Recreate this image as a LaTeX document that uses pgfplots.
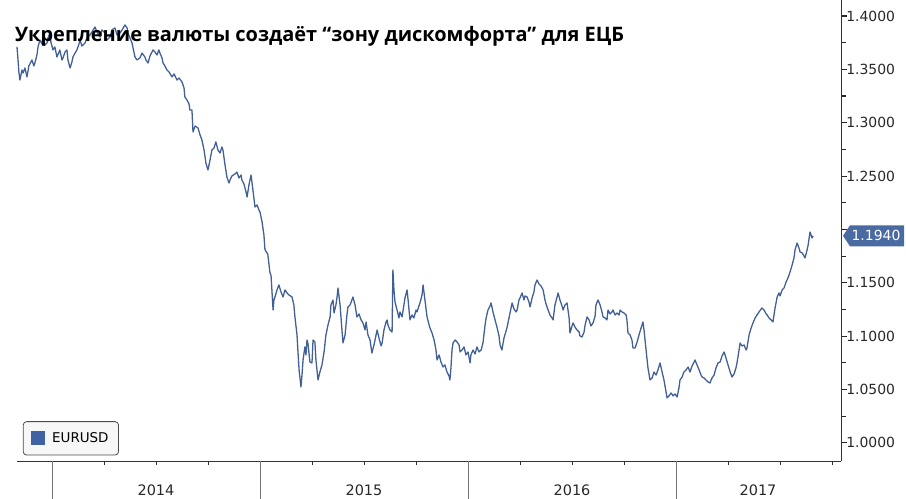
\documentclass[border=0pt]{standalone}
\usepackage{pgfplots}
\pgfplotsset{compat=1.18}
\usepackage{fontspec}
\setmainfont{DejaVu Sans}
\newfontfamily\titlefont{Open Sans}
\definecolor{eurline}{RGB}{66,96,150}
\definecolor{eurbox}{RGB}{74,106,162}
\definecolor{eurleg}{RGB}{64,98,164}
\definecolor{ticktext}{RGB}{40,40,40}
\begin{document}
\begin{tikzpicture}
\path[use as bounding box] (0,0) rectangle (906bp,499bp);
\begin{axis}[
  at={(17bp,38bp)}, anchor=south west,
  scale only axis, width=824bp, height=461bp,
  xmin=2013.832, xmax=2017.793, ymin=0.983, ymax=1.415,
  axis x line*=bottom, axis y line*=right,
  axis line style={black!80, line width=0.8bp},
  clip=false,
  tick align=outside,
  xtick={2014.25,2014.5,2014.75,2015.25,2015.5,2015.75,2016.25,2016.5,2016.75,2017.25,2017.5,2017.75},
  xticklabels={},
  xtick style={black!80, line width=0.8bp, /pgfplots/major tick length=4bp},
  ytick={1.00,1.05,1.10,1.15,1.20,1.25,1.30,1.35,1.40},
  yticklabels={1.0000,1.0500,1.1000,1.1500,,1.2500,1.3000,1.3500,1.4000},
  minor y tick num=1,
  ytick style={black!85, line width=1.1bp, /pgfplots/major tick length=6bp, /pgfplots/minor tick length=5bp},
  yticklabel style={font=\fontsize{14}{14}\selectfont, text=ticktext, anchor=west, xshift=-2.5bp},
  legend style={at={(0.007,0.012)}, anchor=south west, draw=black!70, fill=black!3,
     rounded corners=3.5bp, inner xsep=8bp, inner ysep=9bp, line width=0.8bp,
     font=\fontsize{13.5}{13.5}\selectfont},
  legend image code/.code={\path[draw=none, fill=none] (0bp,0bp) -- (19bp,0bp);\fill[eurleg, draw=none, sharp corners] (0bp,-7bp) rectangle (14bp,7bp);},
]
\addplot[eurline, line width=1.3bp, line join=round] table {
2013.832 1.3710
2013.837 1.3588
2013.841 1.3475
2013.846 1.3400
2013.856 1.3494
2013.861 1.3466
2013.870 1.3513
2013.880 1.3429
2013.889 1.3532
2013.904 1.3588
2013.913 1.3532
2013.918 1.3560
2013.928 1.3635
2013.933 1.3710
2013.942 1.3775
2013.952 1.3738
2013.957 1.3803
2013.966 1.3728
2013.976 1.3747
2013.981 1.3794
2013.990 1.3841
2013.995 1.3756
2014.005 1.3682
2014.014 1.3710
2014.024 1.3616
2014.034 1.3663
2014.038 1.3682
2014.048 1.3588
2014.053 1.3607
2014.063 1.3663
2014.072 1.3682
2014.077 1.3588
2014.087 1.3513
2014.096 1.3569
2014.101 1.3616
2014.111 1.3653
2014.120 1.3682
2014.130 1.3738
2014.135 1.3775
2014.144 1.3719
2014.159 1.3747
2014.168 1.3794
2014.183 1.3822
2014.192 1.3850
2014.207 1.3897
2014.216 1.3850
2014.231 1.3803
2014.240 1.3869
2014.255 1.3841
2014.264 1.3775
2014.279 1.3803
2014.288 1.3869
2014.303 1.3888
2014.313 1.3822
2014.327 1.3841
2014.337 1.3869
2014.351 1.3916
2014.361 1.3888
2014.365 1.3841
2014.375 1.3794
2014.385 1.3747
2014.394 1.3663
2014.399 1.3616
2014.409 1.3588
2014.423 1.3607
2014.433 1.3653
2014.447 1.3616
2014.452 1.3588
2014.462 1.3560
2014.471 1.3625
2014.486 1.3682
2014.495 1.3663
2014.505 1.3635
2014.514 1.3682
2014.519 1.3653
2014.529 1.3607
2014.534 1.3560
2014.543 1.3532
2014.553 1.3494
2014.563 1.3475
2014.577 1.3429
2014.587 1.3457
2014.601 1.3400
2014.611 1.3419
2014.625 1.3382
2014.635 1.3325
2014.639 1.3241
2014.649 1.3213
2014.659 1.3176
2014.663 1.3119
2014.673 1.3119
2014.678 1.2913
2014.688 1.2969
2014.702 1.2951
2014.712 1.2885
2014.721 1.2838
2014.731 1.2745
2014.736 1.2679
2014.740 1.2623
2014.750 1.2557
2014.760 1.2651
2014.769 1.2745
2014.779 1.2763
2014.788 1.2820
2014.798 1.2745
2014.808 1.2716
2014.817 1.2773
2014.822 1.2745
2014.832 1.2604
2014.841 1.2492
2014.851 1.2435
2014.856 1.2463
2014.865 1.2501
2014.880 1.2520
2014.889 1.2538
2014.899 1.2482
2014.909 1.2510
2014.913 1.2463
2014.923 1.2426
2014.933 1.2351
2014.938 1.2304
2014.947 1.2417
2014.957 1.2510
2014.966 1.2370
2014.976 1.2210
2014.986 1.2229
2014.995 1.2182
2015.000 1.2164
2015.010 1.2070
2015.019 1.1948
2015.024 1.1808
2015.034 1.1780
2015.038 1.1761
2015.048 1.1592
2015.053 1.1573
2015.063 1.1245
2015.067 1.1339
2015.072 1.1367
2015.082 1.1433
2015.091 1.1480
2015.101 1.1414
2015.111 1.1367
2015.120 1.1433
2015.130 1.1405
2015.139 1.1386
2015.154 1.1367
2015.163 1.1292
2015.168 1.1180
2015.178 1.1011
2015.183 1.0842
2015.188 1.0683
2015.197 1.0524
2015.202 1.0636
2015.207 1.0777
2015.216 1.0899
2015.221 1.0824
2015.226 1.0964
2015.231 1.0927
2015.240 1.0758
2015.250 1.0749
2015.255 1.0964
2015.264 1.0946
2015.269 1.0777
2015.279 1.0589
2015.288 1.0664
2015.298 1.0730
2015.308 1.0852
2015.317 1.1011
2015.327 1.1105
2015.337 1.1180
2015.341 1.1292
2015.351 1.1339
2015.356 1.1217
2015.365 1.1292
2015.370 1.1358
2015.375 1.1451
2015.385 1.1292
2015.394 1.1058
2015.399 1.0936
2015.409 1.1011
2015.418 1.1198
2015.423 1.1274
2015.433 1.1292
2015.442 1.1339
2015.447 1.1367
2015.457 1.1292
2015.466 1.1180
2015.476 1.1208
2015.486 1.1152
2015.495 1.1124
2015.505 1.1058
2015.510 1.1133
2015.519 1.1011
2015.529 1.0964
2015.538 1.0842
2015.548 1.0917
2015.558 1.1011
2015.563 1.1058
2015.572 1.0983
2015.582 1.0908
2015.587 1.0936
2015.596 1.1058
2015.606 1.1133
2015.611 1.1152
2015.615 1.1105
2015.625 1.1058
2015.635 1.1039
2015.639 1.1620
2015.644 1.1433
2015.649 1.1320
2015.659 1.1245
2015.668 1.1170
2015.673 1.1227
2015.683 1.1180
2015.692 1.1292
2015.697 1.1358
2015.707 1.1433
2015.712 1.1339
2015.721 1.1152
2015.731 1.1198
2015.740 1.1170
2015.750 1.1245
2015.755 1.1227
2015.764 1.1283
2015.769 1.1311
2015.779 1.1386
2015.784 1.1480
2015.793 1.1339
2015.803 1.1180
2015.813 1.1105
2015.817 1.1077
2015.827 1.1030
2015.837 1.0964
2015.846 1.0870
2015.851 1.0777
2015.861 1.0824
2015.870 1.0758
2015.880 1.0711
2015.889 1.0730
2015.899 1.0664
2015.909 1.0627
2015.913 1.0589
2015.918 1.0702
2015.923 1.0870
2015.928 1.0936
2015.938 1.0964
2015.947 1.0946
2015.957 1.0917
2015.962 1.0852
2015.971 1.0870
2015.981 1.0899
2015.990 1.0824
2016.000 1.0852
2016.010 1.0749
2016.014 1.0824
2016.024 1.0870
2016.034 1.0833
2016.043 1.0899
2016.053 1.0852
2016.063 1.0870
2016.072 1.0936
2016.082 1.1105
2016.087 1.1170
2016.096 1.1245
2016.106 1.1283
2016.111 1.1311
2016.120 1.1227
2016.130 1.1152
2016.139 1.1086
2016.149 1.1002
2016.154 1.0917
2016.163 1.0870
2016.173 1.0983
2016.183 1.1048
2016.188 1.1086
2016.197 1.1170
2016.207 1.1264
2016.212 1.1311
2016.221 1.1255
2016.231 1.1227
2016.236 1.1245
2016.245 1.1339
2016.250 1.1358
2016.260 1.1405
2016.269 1.1339
2016.274 1.1377
2016.284 1.1367
2016.293 1.1320
2016.298 1.1274
2016.308 1.1358
2016.317 1.1414
2016.322 1.1480
2016.332 1.1526
2016.341 1.1489
2016.351 1.1470
2016.361 1.1433
2016.370 1.1339
2016.375 1.1302
2016.385 1.1245
2016.394 1.1198
2016.404 1.1170
2016.409 1.1152
2016.418 1.1292
2016.428 1.1367
2016.433 1.1405
2016.442 1.1339
2016.452 1.1283
2016.457 1.1245
2016.466 1.1292
2016.476 1.1311
2016.486 1.1170
2016.490 1.1030
2016.500 1.1095
2016.505 1.1124
2016.514 1.1086
2016.524 1.1058
2016.534 1.1039
2016.538 1.1002
2016.548 1.0992
2016.558 1.1039
2016.563 1.1105
2016.572 1.1180
2016.582 1.1152
2016.591 1.1095
2016.601 1.1124
2016.611 1.1189
2016.615 1.1292
2016.625 1.1339
2016.635 1.1292
2016.644 1.1227
2016.649 1.1180
2016.659 1.1170
2016.668 1.1152
2016.673 1.1245
2016.683 1.1208
2016.692 1.1227
2016.697 1.1245
2016.707 1.1198
2016.716 1.1217
2016.726 1.1198
2016.731 1.1245
2016.740 1.1227
2016.750 1.1217
2016.760 1.1198
2016.764 1.1152
2016.769 1.1030
2016.779 1.1011
2016.788 1.0964
2016.793 1.0889
2016.803 1.0889
2016.813 1.0946
2016.822 1.1011
2016.832 1.1077
2016.841 1.1133
2016.846 1.1058
2016.856 1.0870
2016.865 1.0702
2016.875 1.0589
2016.885 1.0608
2016.894 1.0664
2016.904 1.0636
2016.913 1.0683
2016.923 1.0749
2016.933 1.0664
2016.942 1.0589
2016.952 1.0477
2016.957 1.0421
2016.966 1.0440
2016.976 1.0468
2016.986 1.0440
2016.995 1.0458
2017.005 1.0430
2017.014 1.0514
2017.019 1.0589
2017.029 1.0617
2017.038 1.0664
2017.048 1.0683
2017.058 1.0711
2017.067 1.0664
2017.077 1.0721
2017.087 1.0758
2017.091 1.0777
2017.101 1.0730
2017.111 1.0683
2017.120 1.0636
2017.125 1.0617
2017.135 1.0608
2017.144 1.0589
2017.154 1.0571
2017.163 1.0561
2017.173 1.0608
2017.183 1.0636
2017.192 1.0702
2017.202 1.0749
2017.212 1.0758
2017.221 1.0814
2017.231 1.0852
2017.240 1.0796
2017.250 1.0730
2017.260 1.0664
2017.269 1.0617
2017.279 1.0646
2017.288 1.0702
2017.293 1.0749
2017.303 1.0870
2017.308 1.0936
2017.317 1.0908
2017.327 1.0917
2017.337 1.0870
2017.341 1.0889
2017.351 1.1011
2017.361 1.1077
2017.370 1.1124
2017.380 1.1170
2017.389 1.1198
2017.399 1.1227
2017.413 1.1264
2017.423 1.1245
2017.433 1.1208
2017.438 1.1198
2017.447 1.1170
2017.457 1.1152
2017.466 1.1133
2017.476 1.1264
2017.486 1.1367
2017.495 1.1405
2017.500 1.1377
2017.510 1.1433
2017.519 1.1451
2017.529 1.1508
2017.538 1.1545
2017.548 1.1601
2017.558 1.1667
2017.567 1.1733
2017.572 1.1808
2017.582 1.1873
2017.591 1.1826
2017.596 1.1789
2017.606 1.1780
2017.615 1.1751
2017.620 1.1733
2017.630 1.1808
2017.635 1.1854
2017.644 1.1976
2017.649 1.1948
2017.654 1.1920
2017.659 1.1940
};
\addlegendentry{EURUSD}
% year separators below the axis
\draw[black!55, line width=0.8bp] (axis cs:2014,0.983) -- ++(0pt,-38bp);
\draw[black!55, line width=0.8bp] (axis cs:2015,0.983) -- ++(0pt,-38bp);
\draw[black!55, line width=0.8bp] (axis cs:2016,0.983) -- ++(0pt,-38bp);
\draw[black!55, line width=0.8bp] (axis cs:2017,0.983) -- ++(0pt,-38bp);
% year labels
\node[font=\fontsize{14.5}{14.5}\selectfont, text=ticktext] at ([yshift=-29bp]axis cs:2014.5,0.983) {2014};
\node[font=\fontsize{14.5}{14.5}\selectfont, text=ticktext] at ([yshift=-29bp]axis cs:2015.5,0.983) {2015};
\node[font=\fontsize{14.5}{14.5}\selectfont, text=ticktext] at ([yshift=-29bp]axis cs:2016.5,0.983) {2016};
\node[font=\fontsize{14.5}{14.5}\selectfont, text=ticktext] at ([yshift=-29bp]axis cs:2017.394,0.983) {2017};
% last value flag
\coordinate (lv) at (axis cs:2017.793,1.1940);
\fill[eurbox] ([xshift=2bp]lv) -- ++(7bp,10.5bp) -- ++(54bp,0pt) -- ++(0pt,-21bp) -- ++(-54bp,0pt) -- cycle;
\node[font=\fontsize{14}{14}\selectfont, text=white] at ([xshift=35bp]lv) {1.1940};
\end{axis}
\node[anchor=base west, inner sep=0pt] at (15bp,457bp) {\resizebox{609bp}{!}{\titlefont\bfseries\fontsize{19}{19}\selectfont Укрепление валюты создаёт “зону дискомфорта” для ЕЦБ}};
\end{tikzpicture}
\end{document}
